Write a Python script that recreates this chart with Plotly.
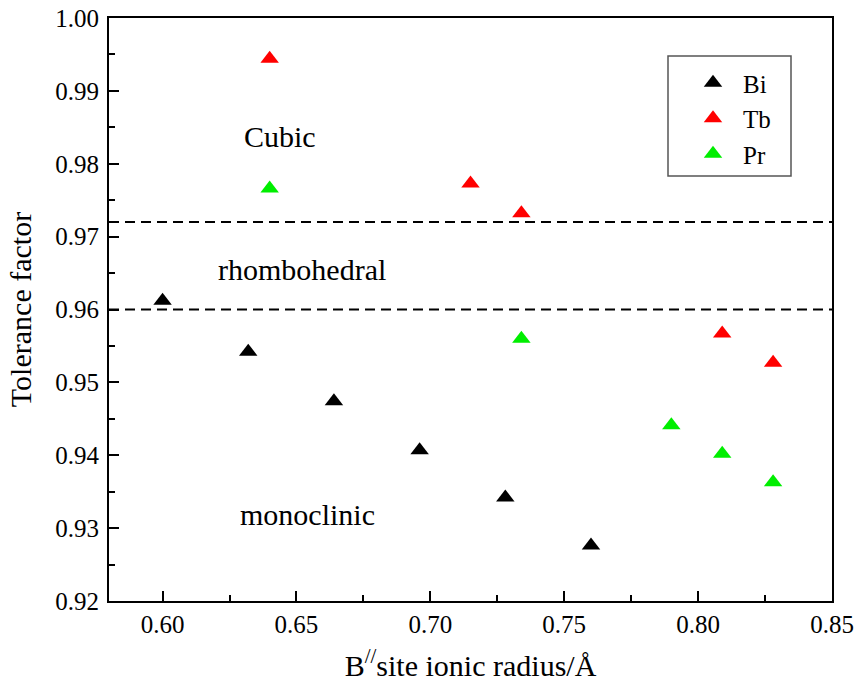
import plotly.graph_objects as go

# Data
bi_x = [0.600, 0.632, 0.664, 0.696, 0.728, 0.760]
bi_y = [0.9612, 0.9542, 0.9474, 0.9407, 0.9342, 0.9276]
tb_x = [0.640, 0.715, 0.734, 0.809, 0.828]
tb_y = [0.9944, 0.9773, 0.9732, 0.9567, 0.9527]
pr_x = [0.640, 0.734, 0.790, 0.809, 0.828]
pr_y = [0.9766, 0.9560, 0.9441, 0.9402, 0.9363]
boundaries = [0.972, 0.960]
region_labels = ["Cubic", "rhombohedral", "monoclinic"]
region_x = [0.6440, 0.6522, 0.6540]
region_y = [0.9837, 0.9655, 0.9319]
x_ticks = [0.60, 0.65, 0.70, 0.75, 0.80, 0.85]
y_ticks = [0.92, 0.93, 0.94, 0.95, 0.96, 0.97, 0.98, 0.99, 1.00]

FONT = "Liberation Serif, Times New Roman, serif"

# plot-area geometry in page pixels (reference)
PL, PR, PT, PB = 109, 832, 18, 601
PW, PH = PR - PL, PB - PT
def px(x):
    return (x - PL) / PW
def py(y):
    return (PB - y) / PH

fig = go.Figure()
for name, xs, ys, col in [("Bi", bi_x, bi_y, "#000000"),
                          ("Tb", tb_x, tb_y, "#ff0000"),
                          ("Pr", pr_x, pr_y, "#00ee00")]:
    fig.add_trace(go.Scatter(x=xs, y=ys, mode="markers", name=name,
                             legendgroup=name,
                             marker=dict(symbol="triangle-up", size=16, color=col,
                                         line=dict(width=0))))

for b in boundaries:
    fig.add_shape(type="line", xref="paper", yref="y", x0=0, x1=1, y0=b, y1=b,
                  line=dict(color="black", width=2, dash="10px,6px"))

for t, x, y in zip(region_labels, region_x, region_y):
    fig.add_annotation(x=x, y=y, text=t, showarrow=False,
                       font=dict(family=FONT, size=30, color="black"))

# legend box
fig.add_shape(type="rect", xref="paper", yref="paper",
              x0=px(668), x1=px(791), y0=py(176), y1=py(56),
              line=dict(color="#555555", width=1.5), fillcolor="rgba(0,0,0,0)")

fig.update_layout(
    width=856, height=696,
    margin=dict(l=PL, r=856 - PR, t=PT, b=696 - PB),
    paper_bgcolor="white", plot_bgcolor="white",
    font=dict(family=FONT, color="black"),
    legend=dict(x=px(683), y=py(60), xanchor="left", yanchor="top",
                bgcolor="rgba(0,0,0,0)", borderwidth=0,
                font=dict(family=FONT, size=25), tracegroupgap=0,
                itemwidth=50, itemsizing="trace"),
    xaxis=dict(range=[0.58, 0.85], tickvals=x_ticks, tickformat=".2f",
               ticks="inside", ticklen=10, tickwidth=2, tickcolor="black",
               minor=dict(ticks="inside", ticklen=6, tickwidth=2, tickcolor="black", dtick=0.025),
               showline=True, linewidth=2, linecolor="black", mirror=True,
               showgrid=False, zeroline=False, automargin=False,
               ticklabeloverflow="allow",
               tickfont=dict(family=FONT, size=25),
               title=dict(text="B<sup>//</sup>site ionic radius/Å", font=dict(family=FONT, size=30),
                          standoff=18)),
    yaxis=dict(range=[0.92, 1.00], tickvals=y_ticks, tickformat=".2f",
               ticks="inside", ticklen=10, tickwidth=2, tickcolor="black",
               minor=dict(ticks="inside", ticklen=6, tickwidth=2, tickcolor="black", dtick=0.005),
               showline=True, linewidth=2, linecolor="black", mirror=True,
               showgrid=False, zeroline=False, automargin=False,
               ticklabelstandoff=3, ticklabeloverflow="allow",
               tickfont=dict(family=FONT, size=25),
               title=dict(text="Tolerance factor", font=dict(family=FONT, size=30),
                          standoff=15)),
)

# remove the default 8px page margin so the figure fills the window exactly
fig.write_html("out.html", config={"displayModeBar": False},
               post_script="document.body.style.margin='0';")
